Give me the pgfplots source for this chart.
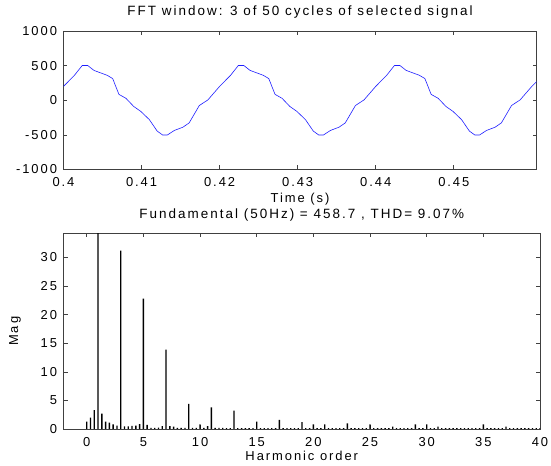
\documentclass[border=0pt]{standalone}
\usepackage{pgfplots}
\usepackage{pgfplotstable}
\pgfplotsset{compat=1.18}
\usepackage{fontspec}
\setmainfont[LetterSpace=15]{Liberation Sans}

\pgfplotstableread{
h m
0 1.3
0.333 2.0
0.667 3.3
1 100
1.333 2.7
1.667 1.3
2 1.1
2.333 0.8
2.667 0.6
3 31.2
3.333 0.45
3.667 0.45
4 0.55
4.333 0.6
4.667 0.85
5 22.8
5.333 0.7
5.667 0.2
6 0.2
6.333 0.25
6.667 0.5
7 13.9
7.333 0.5
7.667 0.4
8 0.2
8.333 0.2
8.667 0.2
9 4.4
9.333 0.2
9.667 0.2
10 0.8
10.333 0.2
10.667 0.5
11 3.8
11.333 0.2
11.667 0.2
12 0.2
12.333 0.15
12.667 0.15
13 3.2
13.333 0.15
13.667 0.15
14 0.15
14.333 0.15
14.667 0.15
15 1.3
15.333 0.15
15.667 0.15
16 0.15
16.333 0.15
16.667 0.15
17 1.6
17.333 0.15
17.667 0.15
18 0.15
18.333 0.15
18.667 0.15
19 1.2
19.333 0.15
19.667 0.15
20 0.8
20.333 0.15
20.667 0.15
21 0.8
21.333 0.15
21.667 0.15
22 0.15
22.333 0.15
22.667 0.15
23 1.0
23.333 0.15
23.667 0.15
24 0.15
24.333 0.15
24.667 0.15
25 0.8
25.333 0.15
25.667 0.15
26 0.15
26.333 0.15
26.667 0.15
27 0.4
27.333 0.15
27.667 0.15
28 0.15
28.333 0.15
28.667 0.15
29 0.8
29.333 0.15
29.667 0.15
30 0.8
30.333 0.15
30.667 0.15
31 0.4
31.333 0.15
31.667 0.15
32 0.15
32.333 0.15
32.667 0.15
33 0.15
33.333 0.15
33.667 0.15
34 0.15
34.333 0.15
34.667 0.15
35 0.8
35.333 0.15
35.667 0.15
36 0.15
36.333 0.15
36.667 0.15
37 0.4
37.333 0.15
37.667 0.15
38 0.15
38.333 0.15
38.667 0.15
39 0.15
39.333 0.15
39.667 0.15
40 0.15
}\harm

\begin{document}
\begin{tikzpicture}
\useasboundingbox (0,0) rectangle (551bp,466bp);
\pgfplotsset{
  every axis/.append style={
    scale only axis,
    font=\fontsize{13}{15}\selectfont,
    /pgf/number format/assume math mode=true,
    axis line style={black!75, line width=0.8pt},
    tick style={black!75, line width=0.6pt},
    tick align=inside,
    major tick length=4bp,
    xticklabel style={anchor=base, yshift=-17bp},
    yticklabel style={xshift=-3bp},
  }
}
% ---------- top: waveform ----------
\begin{axis}[
  at={(63.5bp,296.5bp)}, anchor=south west,
  width=473bp, height=138.5bp,
  xmin=0.4, xmax=0.4606, ymin=-1000, ymax=1000,
  xtick={0.4,0.41,0.42,0.43,0.44,0.45},
  xticklabels={0.4,0.41,0.42,0.43,0.44,0.45},
  ytick={-1000,-500,0,500,1000},
  yticklabels={-1000,-500,0,500,1000},
  title={\fontsize{13.5}{15}\selectfont FFT window: 3 of 50 cycles of selected signal},
  title style={at={(0.5,1)}, anchor=base, yshift=9.5bp},
  xlabel={Time (s)},
  xlabel style={at={(axis description cs:0.5,0)}, anchor=base, yshift=-33.5bp},
]
\addplot[color={rgb,255:red,30;green,30;blue,255}, line width=0.6pt] coordinates {
(0.4000,200) (0.4014,360) (0.4024,502) (0.4031,502) (0.4039,431) (0.4056,360) (0.4063,313) (0.4071,85) (0.4080,28) (0.4090,-90) (0.4099,-161) (0.4110,-280) (0.4120,-445) (0.4127,-502) (0.4133,-502) (0.4142,-436) (0.4153,-389) (0.4161,-327) (0.4174,-76) (0.4185,5)
(0.4200,200) (0.4214,360) (0.4224,502) (0.4231,502) (0.4239,431) (0.4256,360) (0.4263,313) (0.4271,85) (0.4280,28) (0.4290,-90) (0.4299,-161) (0.4310,-280) (0.4320,-445) (0.4327,-502) (0.4333,-502) (0.4342,-436) (0.4353,-389) (0.4361,-327) (0.4374,-76) (0.4385,5)
(0.4400,200) (0.4414,360) (0.4424,502) (0.4431,502) (0.4439,431) (0.4456,360) (0.4463,313) (0.4471,85) (0.4480,28) (0.4490,-90) (0.4499,-161) (0.4510,-280) (0.4520,-445) (0.4527,-502) (0.4533,-502) (0.4542,-436) (0.4553,-389) (0.4561,-327) (0.4574,-76) (0.4585,5) (0.4600,200) (0.4606,268)
};
\end{axis}
% ---------- bottom: spectrum ----------
\begin{axis}[
  at={(63.5bp,37bp)}, anchor=south west,
  width=476.5bp, height=195.5bp,
  xmin=-2.05, xmax=40, ymin=0, ymax=34.2,
  xtick={0,5,...,40},
  ytick={0,5,...,30},
  title={\fontsize{13.5}{15}\selectfont Fundamental (50Hz) = 458.7 , THD= 9.07\%},
  title style={at={(0.5,1)}, anchor=base, yshift=9bp},
  xlabel={Harmonic order},
  xlabel style={at={(axis description cs:0.5,0)}, anchor=base, yshift=-31.7bp},
  ylabel={Mag},
  ylabel style={at={(axis description cs:-0.102,0.5)}, anchor=center},
]
\addplot[black!50, line width=0.6pt] coordinates {(-2.05,0) (40,0)};
\addplot[ybar, bar width=0.12, bar shift=0pt, fill=black, draw=none] table[x=h, y=m] {\harm};
\end{axis}
\end{tikzpicture}
\end{document}
